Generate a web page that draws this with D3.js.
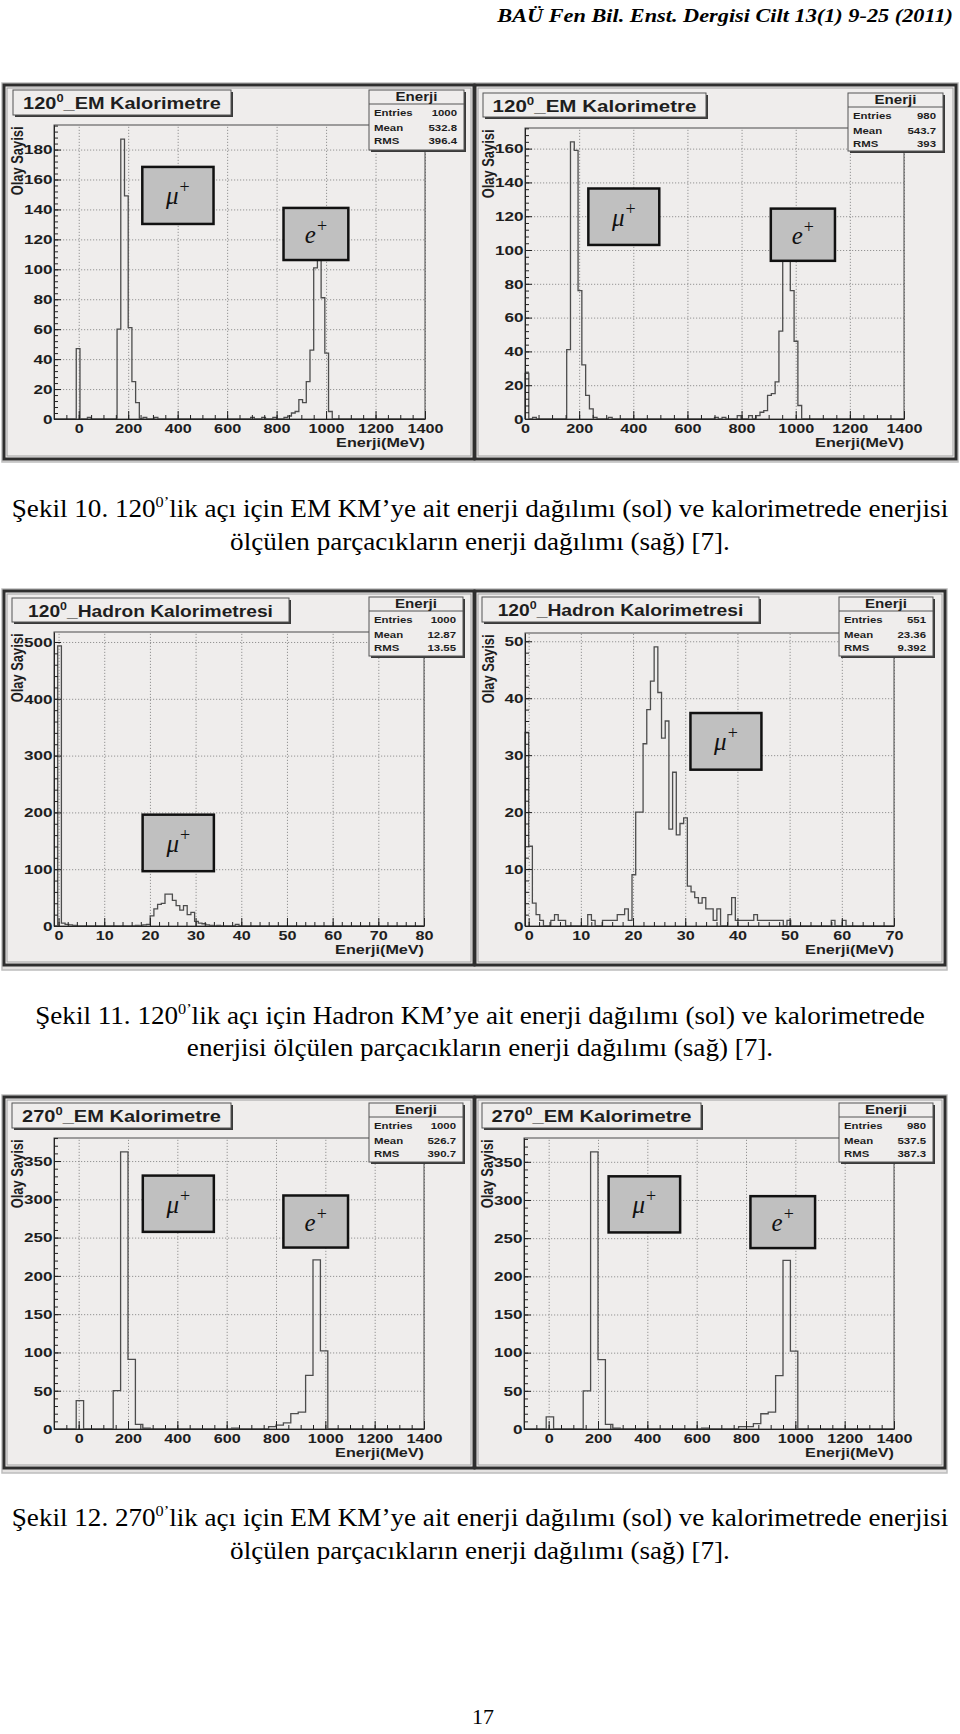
<!DOCTYPE html>
<html><head><meta charset="utf-8">
<script src="https://cdn.jsdelivr.net/npm/d3@7"></script>
<style>body{margin:0;background:#fff}svg{display:block}</style>
</head><body>
<script>
// ---------------- DATA ----------------
// bin contents (events per bin)
const p1Counts = [ // 120° EM calorimeter, 100 bins, -100..1400 MeV
0,0,0,0,0,0,47,0,0,1, 0,0,0,0,0,0,0,60,187,149, 61,25,11,0,1,0,0,1,0,0,
0,0,0,0,0,0,0,0,0,0, 0,0,0,0,0,0,0,0,0,0, 0,0,0,1,0,0,1,0,0,1,
0,0,1,2,4,5,13,11,25,46, 101,116,81,44,5,0,0,0,0,0, 0,0,0,0,0,0,0,0,0,0,
0,0,0,0,0,0,0,0,0,0];
const p2Counts = [ // 120° EM, measured particles, 100 bins, 0..1400 MeV
27,0,1,0,0,0,0,0,0,0, 0,41,164,159,76,32,14,6,1,0, 0,0,1,0,0,0,0,0,0,0,
0,0,0,0,0,0,0,0,0,0, 0,0,0,0,0,0,0,0,0,0, 1,0,1,0,0,0,2,0,0,2,
0,2,4,5,14,15,22,52,97,111, 76,46,8,0,0,0,0,0,0,0, 0,0,0,0,0,0,0,0,0,0,
0,0,0,0,0,0,0,0,0,0];
const p3Counts = [ // 120° Hadron calorimeter, 100 bins, -1..80 MeV
0,493,5,3,2,1,0,0,0,0, 0,0,0,0,0,0,0,0,0,0, 0,0,1,0,2,3,18,30,38,40,
56,56,45,36,28,36,20,24,8,5, 4,2,1,0,1,0,0,0,0,3, 0,0,0,0,0,0,0,0,0,0,
0,0,0,0,0,0,0,0,0,0, 0,0,0,0,0,0,0,0,0,0, 0,0,0,0,0,0,0,0,0,0,
0,0,0,0,0,0,0,0,0,0];
const p4Counts = [ // 120° Hadron, measured particles, 100 bins, -0.7..70 MeV
34,14,4,2,1,0,0,1,2,1, 1,0,0,0,0,0,0,2,1,0, 0,1,1,1,1,2,2,3,1,9,
20,20,32,38,43,49,41,33,36,17, 27,16,18,19,7,6,5,4,5,3, 3,1,3,0,0,2,5,1,1,1,
1,1,2,1,1,1,1,1,1,1, 0,1,0,0,0,0,0,0,0,0, 0,0,0,1,0,0,1,0,0,0,
0,0,0,0,0,0,0,0,0,0];
const p5Counts = [ // 270° EM calorimeter, 50 bins, -100..1400 MeV
0,0,0,37,0,0,0,0,50,362, 91,6,1,0,0,0,0,0,0,0, 0,0,0,0,1,0,0,0,0,3,
5,8,20,22,70,221,102,0,0,0, 0,0,0,0,0,0,0,0,0,0];
const p6Counts = [ // 270° EM, measured particles, 50 bins, -100..1400 MeV
0,0,0,16,0,0,0,0,50,363, 91,6,1,0,0,0,0,0,0,0, 0,0,0,0,1,0,0,0,0,3,
3,7,20,22,70,221,102,0,0,0, 0,0,0,0,0,0,0,0,0,0];

const xDomains = [[-100,1400],[0,1400],[-1,80],[-0.7,70],[-100,1400],[-100,1400]];
const yMaxes   = [196.4, 172.2, 517.6, 51.45, 380.1, 381.2];

const emXTicks  = [0,200,400,600,800,1000,1200,1400];
const hadXTicks3 = [0,10,20,30,40,50,60,70,80];
const hadXTicks4 = [0,10,20,30,40,50,60,70];
const yTicks1 = [0,20,40,60,80,100,120,140,160,180];
const yTicks2 = [0,20,40,60,80,100,120,140,160];
const yTicks3 = [0,100,200,300,400,500];
const yTicks4 = [0,10,20,30,40,50];
const yTicks56 = [0,50,100,150,200,250,300,350];

const titleAngles = ["120","120","120","120","270","270"];
const titleNames  = ["_EM Kalorimetre","_EM Kalorimetre","_Hadron Kalorimetresi","_Hadron Kalorimetresi","_EM Kalorimetre","_EM Kalorimetre"];
const statEntries = ["1000","980","1000","551","1000","980"];
const statMeans   = ["532.8","543.7","12.87","23.36","526.7","537.5"];
const statRMS     = ["396.4","393","13.55","9.392","390.7","387.3"];

// annotation boxes in data units: [label, x0, x1, y0, y1]
const p1Boxes = [["μ",257,545,130.3,168.4],["e",828,1090,106.2,141]];
const p2Boxes = [["μ",234,496,103,136.4],["e",908,1145,93.6,124.5]];
const p3Boxes = [["μ",18.4,34.0,96.5,196]];
const p4Boxes = [["μ",31.0,44.6,27.45,37.4]];
const p5Boxes = [["μ",260,548,257.5,331],["e",830,1092,237,305]];
const p6Boxes = [["μ",243,533,257.5,331],["e",818,1080,237,305]];

const caption1 = ["Şekil 10. 120","0’","lik açı için EM KM’ye ait enerji dağılımı (sol) ve kalorimetrede enerjisi","ölçülen parçacıkların enerji dağılımı (sağ) [7]."];
const caption2 = ["Şekil 11. 120","0’","lik açı için Hadron KM’ye ait enerji dağılımı (sol) ve kalorimetrede","enerjisi ölçülen parçacıkların enerji dağılımı (sağ) [7]."];
const caption3 = ["Şekil 12. 270","0’","lik açı için EM KM’ye ait enerji dağılımı (sol) ve kalorimetrede enerjisi","ölçülen parçacıkların enerji dağılımı (sağ) [7]."];
const headerText = "BAÜ Fen Bil. Enst. Dergisi Cilt 13(1) 9-25 (2011)";
const pageNumber = "17";

// ---------------- LAYOUT ----------------
const layouts = [
 {frame:[4,85,470,374],  plot:[54,425,125,419],   title:[13,90,218,25],  titleW:198, stat:[369,90,95,60]},
 {frame:[475,85,481,374],plot:[525,904,128,419],  title:[483,93,223,24], titleW:204, stat:[848,93,95,58]},
 {frame:[4,591,470,374], plot:[54,424,632,926],   title:[12,598,277,24], titleW:245, stat:[369,597,94,59]},
 {frame:[475,591,470,374],plot:[525,894,633,926], title:[482,597,277,25], titleW:246, stat:[839,597,94,59]},
 {frame:[4,1097,470,371], plot:[54,424,1138,1429],title:[12,1103,219,25], titleW:199, stat:[369,1103,94,59]},
 {frame:[475,1097,470,371],plot:[524,894,1138,1429],title:[482,1103,219,25],titleW:200, stat:[839,1103,94,59]},
];
const groupBoxes = [[2,83,956,379],[2,589,945,381],[2,1095,945,378]];

const panels = [
 {counts:p1Counts, xTicks:emXTicks, xMinor:50, yTicks:yTicks1, yMinor:4, boxes:p1Boxes},
 {counts:p2Counts, xTicks:emXTicks, xMinor:50, yTicks:yTicks2, yMinor:4, boxes:p2Boxes},
 {counts:p3Counts, xTicks:hadXTicks3, xMinor:2, yTicks:yTicks3, yMinor:20, boxes:p3Boxes},
 {counts:p4Counts, xTicks:hadXTicks4, xMinor:2, yTicks:yTicks4, yMinor:2, boxes:p4Boxes},
 {counts:p5Counts, xTicks:emXTicks, xMinor:50, yTicks:yTicks56, yMinor:10, boxes:p5Boxes},
 {counts:p6Counts, xTicks:emXTicks, xMinor:50, yTicks:yTicks56, yMinor:10, boxes:p6Boxes},
].map((p,i)=>Object.assign(p, layouts[i], {xDomain:xDomains[i], yMax:yMaxes[i], angle:titleAngles[i], name:titleNames[i], entries:statEntries[i], mean:statMeans[i], rms:statRMS[i]}));

const BG = "#efedec";
const SANS = "'Liberation Sans', Arial, Helvetica, sans-serif";
const SERIF = "'Liberation Serif', 'Times New Roman', serif";

const svg = d3.select("body").append("svg").attr("width",960).attr("height",1734)
  .style("font-family", SANS);
svg.append("rect").attr("width",960).attr("height",1734).attr("fill","#fff");

function hscale(node, sx){
  const ax = +(node.getAttribute("x")||0);
  node.setAttribute("transform", `translate(${ax*(1-sx)},0) scale(${sx},1)`);
}
function fit(node, w){
  const L = node.getComputedTextLength();
  hscale(node, w/L);
  return w/L;
}

// group borders
groupBoxes.forEach(b=>{
  svg.append("rect").attr("x",b[0]).attr("y",b[1]).attr("width",b[2]).attr("height",b[3])
    .attr("fill","#e4e2e1").attr("stroke","#bdbdbd").attr("stroke-width",1.5);
});

function drawPanel(p){
  const [fx,fy,fw,fh] = p.frame;
  const [pl,pr,pt,pb] = p.plot;
  const g = svg.append("g");
  g.append("rect").attr("x",fx).attr("y",fy).attr("width",fw).attr("height",fh)
    .attr("fill",BG).attr("stroke","#2e2e2e").attr("stroke-width",3);
  g.append("rect").attr("x",fx+3).attr("y",fy+3).attr("width",fw-6).attr("height",fh-6)
    .attr("fill","none").attr("stroke","#a0a0a0").attr("stroke-width",1);

  const x = d3.scaleLinear().domain(p.xDomain).range([pl,pr]);
  const y = d3.scaleLinear().domain([0,p.yMax]).range([pb,pt]);

  // grid
  g.append("g").attr("transform",`translate(0,${pb})`)
    .call(d3.axisBottom(x).tickValues(p.xTicks).tickSize(-(pb-pt)).tickFormat(""))
    .call(a=>{a.select(".domain").remove(); a.selectAll("line").attr("stroke","#8a8a8a").attr("stroke-dasharray","1.2,1.8").attr("stroke-width",0.9);});
  g.append("g").attr("transform",`translate(${pl},0)`)
    .call(d3.axisLeft(y).tickValues(p.yTicks).tickSize(-(pr-pl)).tickFormat(""))
    .call(a=>{a.select(".domain").remove(); a.selectAll("line").attr("stroke","#8a8a8a").attr("stroke-dasharray","1.2,1.8").attr("stroke-width",0.9);});

  // frame
  g.append("rect").attr("x",pl).attr("y",pt).attr("width",pr-pl).attr("height",pb-pt)
    .attr("fill","none").attr("stroke","#4a4a4a").attr("stroke-width",1);

  // histogram outline
  const n = p.counts.length, w = (p.xDomain[1]-p.xDomain[0])/n;
  const pts = [[p.xDomain[0],0]];
  p.counts.forEach((c,i)=>{ pts.push([p.xDomain[0]+i*w,c]); pts.push([p.xDomain[0]+(i+1)*w,c]); });
  pts.push([p.xDomain[1],0]);
  g.append("path").datum(pts)
    .attr("d", d3.line().x(d=>x(d[0])).y(d=>y(d[1])))
    .attr("fill","none").attr("stroke","#4d4d4d").attr("stroke-width",1.3).attr("stroke-linejoin","miter");

  // minor ticks
  const x0 = Math.ceil(p.xDomain[0]/p.xMinor)*p.xMinor;
  const xm = d3.range(x0, p.xDomain[1]+1e-9, p.xMinor);
  g.append("g").attr("transform",`translate(0,${pb})`)
    .call(d3.axisBottom(x).tickValues(xm).tickSizeInner(-4).tickSizeOuter(0).tickFormat(""))
    .call(a=>{a.select(".domain").remove(); a.selectAll("line").attr("stroke","#222");});
  const ym = d3.range(0, p.yMax, p.yMinor);
  g.append("g").attr("transform",`translate(${pl},0)`)
    .call(d3.axisLeft(y).tickValues(ym).tickSizeInner(-4).tickSizeOuter(0).tickFormat(""))
    .call(a=>{a.select(".domain").remove(); a.selectAll("line").attr("stroke","#222");});

  // major axes
  const ax = g.append("g").attr("transform",`translate(0,${pb})`)
    .call(d3.axisBottom(x).tickValues(p.xTicks).tickSizeInner(-8).tickSizeOuter(0).tickPadding(4.5).tickFormat(d3.format("d")));
  ax.select(".domain").attr("stroke","#222");
  ax.selectAll("line").attr("stroke","#222");
  ax.selectAll("text").attr("fill","#1e1e1e").style("font-family",SANS).style("font-weight","bold").style("font-size","13.5px")
    .each(function(){ hscale(this,1.2); });
  const ay = g.append("g").attr("transform",`translate(${pl},0)`)
    .call(d3.axisLeft(y).tickValues(p.yTicks).tickSizeInner(-7).tickSizeOuter(0).tickPadding(1.5).tickFormat(d3.format("d")));
  ay.select(".domain").attr("stroke","#222");
  ay.selectAll("line").attr("stroke","#222");
  ay.selectAll("text").attr("fill","#1e1e1e").style("font-family",SANS).style("font-weight","bold").style("font-size","13.5px")
    .each(function(){ hscale(this,1.27); });

  // axis titles
  const xt = g.append("text").attr("x",pr).attr("y",pb+28).attr("text-anchor","end")
    .style("font-weight","bold").style("font-size","12.5px").attr("fill","#1e1e1e").text("Enerji(MeV)");
  fit(xt.node(), 89);
  g.append("text").attr("text-anchor","end")
    .attr("transform",`translate(${pl-31},${pt+1.5}) scale(1.35,1) rotate(-90)`)
    .style("font-weight","bold").style("font-size","12.9px").attr("fill","#1e1e1e").text("Olay Sayisi");

  // annotation boxes
  p.boxes.forEach(b=>{
    const bx0=x(b[1]), bx1=x(b[2]), by0=y(b[4]), by1=y(b[3]);
    g.append("rect").attr("x",bx0).attr("y",by0).attr("width",bx1-bx0).attr("height",by1-by0)
      .attr("fill","#c0c0c0").attr("stroke","#111").attr("stroke-width",2.5);
    const t = g.append("text").attr("x",(bx0+bx1)/2).attr("y",(by0+by1)/2+9).attr("text-anchor","middle")
      .style("font-family",SERIF).style("font-style","italic").style("font-size","25px").attr("fill","#111");
    t.append("tspan").text(b[0]);
    t.append("tspan").attr("dx",1).attr("dy",-11).style("font-size","18px").style("font-style","normal").text("+");
  });

  // title box
  const [tx,ty,tw,th] = p.title;
  g.append("rect").attr("x",tx+2).attr("y",ty+2).attr("width",tw).attr("height",th).attr("fill","#3a3a3a");
  g.append("rect").attr("x",tx).attr("y",ty).attr("width",tw).attr("height",th)
    .attr("fill",BG).attr("stroke","#555").attr("stroke-width",1);
  const tt = g.append("text").attr("x",tx+tw/2).attr("y",ty+19.5).attr("text-anchor","middle")
    .style("font-weight","bold").style("font-size","17px").attr("fill","#1e1e1e");
  tt.append("tspan").text(p.angle);
  tt.append("tspan").attr("dy",-7).style("font-size","11px").text("0");
  tt.append("tspan").attr("dy",7).text(p.name);
  fit(tt.node(), p.titleW);

  // stat box
  const [sx,sy,sw,sh] = p.stat;
  g.append("rect").attr("x",sx+2).attr("y",sy+2).attr("width",sw).attr("height",sh).attr("fill","#3a3a3a");
  g.append("rect").attr("x",sx).attr("y",sy).attr("width",sw).attr("height",sh)
    .attr("fill",BG).attr("stroke","#555").attr("stroke-width",1);
  g.append("line").attr("x1",sx).attr("x2",sx+sw).attr("y1",sy+14).attr("y2",sy+14).attr("stroke","#555");
  const hd = g.append("text").attr("x",sx+sw/2).attr("y",sy+10.7).attr("text-anchor","middle")
    .style("font-weight","bold").style("font-size","12px").attr("fill","#1e1e1e").text("Enerji");
  fit(hd.node(), 42);
  const rows = [["Entries",p.entries],["Mean",p.mean],["RMS",p.rms]];
  const rowY = [26,40.7,54.3];
  rows.forEach((r,i)=>{
    const l = g.append("text").attr("x",sx+5).attr("y",sy+rowY[i]).style("font-weight","bold").style("font-size","9.5px").attr("fill","#1e1e1e").text(r[0]);
    hscale(l.node(),1.2);
    const v = g.append("text").attr("x",sx+sw-7).attr("y",sy+rowY[i]).attr("text-anchor","end").style("font-weight","bold").style("font-size","9.5px").attr("fill","#1e1e1e").text(r[1]);
    hscale(v.node(),1.2);
  });
}
panels.forEach(drawPanel);

// header
const hdr = svg.append("text").attr("x",953).attr("y",22).attr("text-anchor","end")
  .style("font-family",SERIF).style("font-weight","bold").style("font-style","italic").style("font-size","19px")
  .attr("fill","#000").text(headerText);
fit(hdr.node(), 456);

// captions (Times-like, slightly condensed as in the scanned page)
const FS = 24.5;
function caption(c, y1, y2, sx){
  const t1 = svg.append("text").attr("x",480).attr("y",y1).attr("text-anchor","middle")
    .style("font-family",SERIF).style("font-size",FS+"px").attr("fill","#000");
  t1.append("tspan").text(c[0]);
  t1.append("tspan").attr("dy",-10).style("font-size",(FS*0.6)+"px").text(c[1]);
  t1.append("tspan").attr("dy",10).text(c[2]);
  const t2 = svg.append("text").attr("x",480).attr("y",y2).attr("text-anchor","middle")
    .style("font-family",SERIF).style("font-size",FS+"px").attr("fill","#000").text(c[3]);
  let s = sx;
  if (s === undefined) s = 937 / t1.node().getComputedTextLength();
  hscale(t1.node(), s); hscale(t2.node(), s);
  return s;
}
const capScale = caption(caption1, 517, 550);
caption(caption2, 1024, 1056, capScale);
caption(caption3, 1526, 1559, capScale);

svg.append("text").attr("x",483).attr("y",1724).attr("text-anchor","middle")
  .style("font-family",SERIF).style("font-size","22px").attr("fill","#000").text(pageNumber);
</script>
</body></html>
